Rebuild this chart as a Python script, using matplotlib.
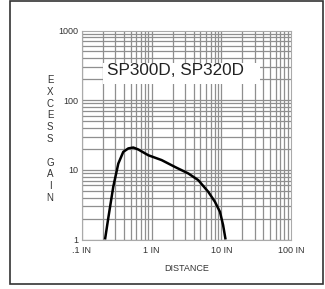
import matplotlib
matplotlib.use("Agg")
import matplotlib.pyplot as plt
from matplotlib.patches import Rectangle

plt.rcParams['font.family'] = ['Liberation Sans', 'DejaVu Sans']

# curve (distance in inches, excess gain)
distance = [0.214, 0.238, 0.281, 0.332, 0.391, 0.462, 0.545, 0.642, 0.894,
            1.39, 2.16, 3.35, 4.66, 6.49, 8.09, 9.55, 10.6, 11.5]
gain = [1.0, 2.01, 5.71, 12.3, 18.1, 20.3, 20.9, 19.6, 16.2,
        13.8, 11.0, 8.88, 7.12, 4.84, 3.48, 2.50, 1.61, 1.0]

x_ticks = [0.1, 1, 10, 100]
x_labels = ['.1 IN', '1 IN', '10 IN', '100 IN']
y_ticks = [1, 10, 100, 1000]
y_labels = ['1', '10', '100', '1000']
title = 'SP300D, SP320D'

W, H = 325, 289
fig = plt.figure(figsize=(W / 100, H / 100), dpi=100)
ax = fig.add_axes([82 / W, 1 - 239.5 / H, 209 / W, 209 / H])

ax.set_xscale('log')
ax.set_yscale('log')
ax.set_xlim(0.1, 100)
ax.set_ylim(1, 1000)

# grid lines for every decade step
grid_col = '#8f8f8f'
for dec in [0.1, 1, 10]:
    for m in range(1, 10):
        ax.axvline(dec * m, color=grid_col, lw=0.9, zorder=1)
for dec in [1, 10, 100]:
    for m in range(1, 10):
        ax.axhline(dec * m, color=grid_col, lw=0.9, zorder=1)

ax.plot(distance, gain, color='black', lw=1.8, zorder=3,
        solid_capstyle='butt', solid_joinstyle='round')

ax.set_xticks(x_ticks)
ax.set_xticklabels(x_labels)
ax.set_yticks(y_ticks)
ax.set_yticklabels(y_labels)
ax.minorticks_off()
ax.tick_params(length=0, labelsize=6.5, colors='#333333', pad=3)
ax.tick_params(axis='x', pad=5)
for s in ax.spines.values():
    s.set_color('#aaaaaa')
    s.set_linewidth(0.8)

ax.set_xlabel('DISTANCE', fontsize=6.5, color='#333333', labelpad=6)

# white label box over the grid
ax.add_patch(Rectangle((0.10, 0.745), 0.75, 0.10, transform=ax.transAxes,
                       facecolor='white', edgecolor='none', zorder=2))
ax.text(0.12, 0.808, title, transform=ax.transAxes, fontsize=12.3,
        va='center', ha='left', color='#222222', zorder=4)

fig.text(50 / W, 1 - 139 / H, '\n'.join('EXCESS GAIN'),
         fontsize=7, ha='center', va='center', linespacing=1.22,
         color='#333333')

# outer frame
fig.patches.append(Rectangle((10 / W, 1 - 284 / H), 313 / W, 283 / H,
                             transform=fig.transFigure, fill=False,
                             edgecolor='#333333', lw=1.2))

fig.savefig('out.png', dpi=100)
